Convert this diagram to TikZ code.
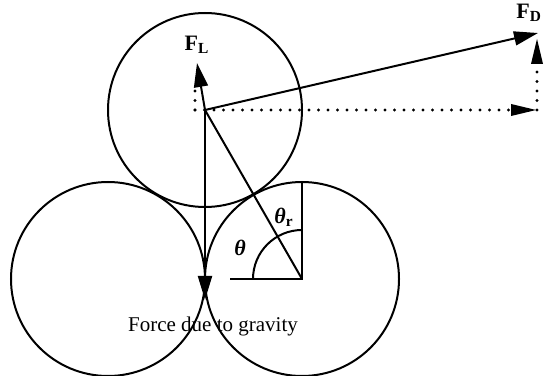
\documentclass[tikz,border=0pt]{standalone}
\usepackage{fontspec}
\setmainfont{Liberation Serif}
\usetikzlibrary{arrows.meta,calc}

\begin{document}
\begin{tikzpicture}[x=0.5pt,y=0.5pt,line width=1pt,
  force/.style={-{Triangle[length=12pt,width=7pt]}},
  comp/.style={-{Triangle[length=13pt,width=5.5pt]},dash pattern=on 0pt off 4.75pt,line cap=round,line width=1.7pt},
  flabel/.style={inner sep=0pt,font=\fontsize{11}{13}\selectfont\bfseries}]
\useasboundingbox (0,0) rectangle (545,375);
% grain centres
\coordinate (top) at (205,265);
\coordinate (left) at (108,96);
\coordinate (right) at (302,96);
\draw (top) circle[radius=97];
\draw (left) circle[radius=97];
\draw (right) circle[radius=97];
% forces on the top grain
\coordinate (lift) at (197,312);
\coordinate (drag) at (538,342);
\coordinate (dragx) at (537,265);
\coordinate (dragy) at (537,337);
\coordinate (liftx) at (195,265);
\coordinate (lifty) at (195,290);
\coordinate (grav) at (205,75);
\draw[comp] (liftx) -- (dragx);
\draw[comp] (dragx) -- (dragy);
\draw[dash pattern=on 0pt off 4.75pt,line cap=round,line width=1.7pt] (liftx) -- (lifty);
\draw[force] (top) -- (lift);
\draw[force] (top) -- (drag);
\draw[force] (top) -- (grav);
\node[flabel] (fl) at (197,330) {F\textsubscript{L}};
\node[flabel,anchor=east] (fd) at (543,362) {F\textsubscript{D}};
% angle construction
\coordinate (hz) at (230,96);
\coordinate (vt) at (302,193);
\draw (top) -- (right);
\draw (hz) -- (right) -- (vt);
\draw ($(right)+(-49,0)$) arc[start angle=180,end angle=90,radius=49];
\node[flabel] (th) at (240,127) {\textit{θ}};
\node[flabel] (thr) at (284,158) {\textit{θ}\textsubscript{r}};
\node[inner sep=0pt,font=\fontsize{10.5}{12}\selectfont] (gl) at (213,49) {Force due to gravity};
\end{tikzpicture}
\end{document}
